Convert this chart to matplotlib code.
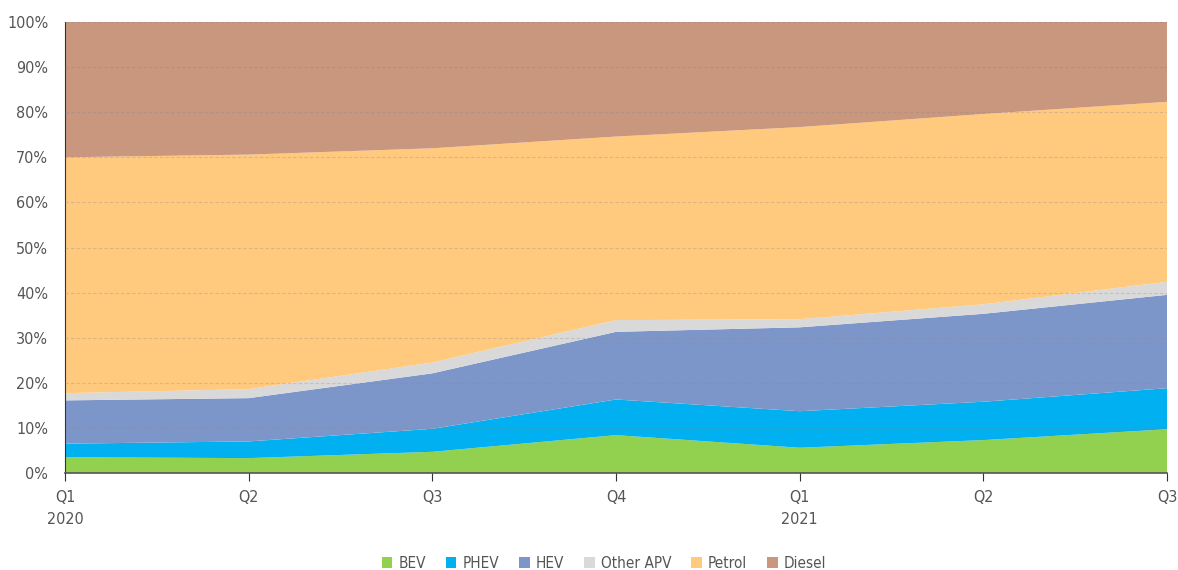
import matplotlib.pyplot as plt
import numpy as np

# quarterly share of new car registrations by fuel type (%)
quarters = ['Q1\n2020', 'Q2', 'Q3', 'Q4', 'Q1\n2021', 'Q2', 'Q3']
bev = [3.5, 3.3, 4.7, 8.4, 5.6, 7.3, 9.7]
phev = [3.0, 3.7, 5.1, 7.9, 8.1, 8.5, 9.1]
hev = [9.6, 9.6, 12.3, 15.0, 18.6, 19.5, 20.7]
other_apv = [1.6, 2.0, 2.4, 2.6, 1.8, 2.1, 2.9]
petrol = [52.3, 52.0, 47.5, 40.7, 42.6, 42.2, 39.9]
diesel = [30.0, 29.4, 28.0, 25.4, 23.3, 20.4, 17.7]

labels = ['BEV', 'PHEV', 'HEV', 'Other APV', 'Petrol', 'Diesel']
colors = ['#92d050', '#00b0f0', '#7d96c9', '#d9d9d9', '#ffc97e', '#c9967e']

plt.rcParams['font.family'] = ['DejaVu Sans']
plt.rcParams['font.stretch'] = 'condensed'
txt = '#555555'

fig = plt.figure(figsize=(11.78, 5.70), dpi=100)
ax = fig.add_axes([65/1178, 1 - 473/570, 1102/1178, 451/570])

x = np.arange(len(quarters))
ax.stackplot(x, bev, phev, hev, other_apv, petrol, diesel,
             labels=labels, colors=colors, linewidth=0)

ax.set_xlim(0, len(quarters) - 1)
ax.set_ylim(0, 100)
ax.set_yticks(np.arange(0, 101, 10))
ax.set_yticklabels([f'{v}%' for v in range(0, 101, 10)])
ax.set_xticks(x)
ax.set_xticklabels(quarters, linespacing=1.6)

ax.set_axisbelow(False)
ax.yaxis.grid(True, linestyle=(0, (3, 2)), color='#888888', alpha=0.3, linewidth=0.8)
ax.tick_params(axis='y', length=0, labelsize=11.5, colors=txt, pad=12)
ax.tick_params(axis='x', length=6, labelsize=11.5, colors=txt, direction='out', pad=6)
ax.tick_params(axis='x', color='#333333')

for s in ['top', 'right']:
    ax.spines[s].set_visible(False)
ax.spines['left'].set_color('#333333')
ax.spines['bottom'].set_color('#555555')
ax.spines['bottom'].set_linewidth(1.2)

fig.legend(*ax.get_legend_handles_labels(), loc='center', bbox_to_anchor=(604/1178, 1 - 563/570),
           ncol=6, frameon=False, fontsize=11, handlelength=0.7, handleheight=0.7,
           handletextpad=0.4, columnspacing=1.3, labelcolor=txt)

fig.savefig('out.png', dpi=100)
